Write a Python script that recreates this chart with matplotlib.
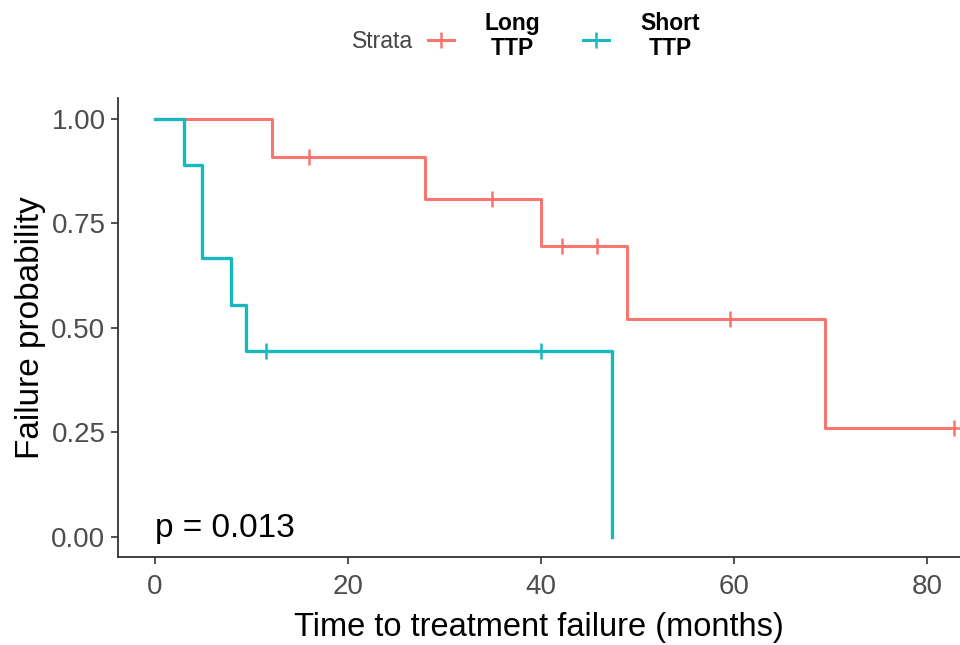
import matplotlib
matplotlib.use("Agg")
import matplotlib.pyplot as plt
from matplotlib.lines import Line2D
import numpy as np

plt.rcParams['font.family'] = ['Liberation Sans', 'DejaVu Sans']

strata = ["Long\nTTP", "Short\nTTP"]
colors = ["#F8766D", "#17B8BE"]

# Step curves: times where probability changes, and the probability after each change
long_times = [0, 12.2, 28.0, 40.0, 48.9, 69.4, 82.8]
long_probs = [1.0, 0.909, 0.808, 0.696, 0.522, 0.261, 0.261]
long_censor_t = [16.0, 34.9, 42.2, 45.8, 59.6, 82.8]
long_censor_p = [0.909, 0.808, 0.696, 0.696, 0.522, 0.261]

short_times = [0, 3.0, 4.9, 7.9, 9.5, 47.4]
short_probs = [1.0, 0.889, 0.667, 0.556, 0.444, 0.0]
short_censor_t = [11.5, 40.0]
short_censor_p = [0.444, 0.444]

xticks = [0, 20, 40, 60, 80]
yticks = [0.00, 0.25, 0.50, 0.75, 1.00]
ytick_labels = ["0.00", "0.25", "0.50", "0.75", "1.00"]

fig = plt.figure(figsize=(9.6, 6.45), dpi=100)
ax = fig.add_axes([118/960, 1 - 557/645, 1 - 118/960, (557 - 98)/645])

ax.step(long_times, long_probs, where='post', color=colors[0], lw=2.2, zorder=2)
ax.plot(long_censor_t, long_censor_p, ls='none', marker='+', ms=11, mew=1.8, color=colors[0], zorder=3)
ax.step(short_times, short_probs, where='post', color=colors[1], lw=2.4, zorder=4)
ax.plot(short_censor_t, short_censor_p, ls='none', marker='+', ms=11, mew=1.8, color=colors[1], zorder=5)

ax.set_xlim(-3.8, 83.4)
ax.set_ylim(-0.048, 1.05)
ax.set_xticks(xticks)
ax.set_yticks(yticks)
ax.set_yticklabels(ytick_labels)
ax.tick_params(axis='both', labelsize=20, colors='#333333', length=5, width=1.2, labelcolor='#4D4D4D')
ax.tick_params(axis='x', pad=7)
ax.tick_params(axis='y', pad=4)
for s in ['top', 'right']:
    ax.spines[s].set_visible(False)
for s in ['left', 'bottom']:
    ax.spines[s].set_linewidth(1.3)
    ax.spines[s].set_color('#333333')

ax.set_xlabel("Time to treatment failure (months)", fontsize=23.5, color='black', labelpad=9)
ax.set_ylabel("Failure probability", fontsize=24, color='black', labelpad=4)

ax.text(0, 0.02, "p = 0.013", fontsize=24, color='black', ha='left', va='center')

# Legend
fig.text(352/960, 1 - 42/645, "Strata", fontsize=16.5, color='#444444', ha='left', va='center')
leg_x = [441, 596]
lab_x = [512, 670]
for i, name in enumerate(strata):
    cx = leg_x[i] / 960
    cy = 1 - 40/645
    fig.add_artist(Line2D([cx - 13/960, cx + 13/960], [cy, cy], color=colors[i], lw=2.2,
                          transform=fig.transFigure))
    fig.add_artist(Line2D([cx], [cy], marker='+', ms=12, mew=1.8, color=colors[i],
                          transform=fig.transFigure))
    fig.text(lab_x[i] / 960, 1 - 36/645, name, fontsize=16.5, fontweight='bold',
             ha='center', va='center', linespacing=1.15)

fig.savefig("out.png", dpi=100)
